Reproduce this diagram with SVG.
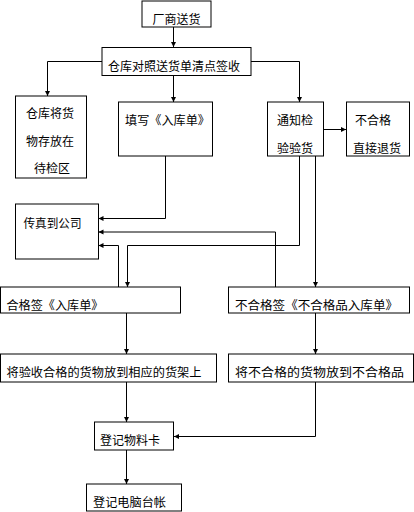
<svg xmlns="http://www.w3.org/2000/svg" width="414" height="512" viewBox="0 0 414 512">
<style>
rect.n{fill:#fff;stroke:#000;stroke-width:1}
text{font-family:"Noto Sans CJK SC","Liberation Sans",sans-serif;font-size:12px;fill:#000}
.c path{fill:none;stroke:#000;stroke-width:1;marker-end:url(#a)}
</style>
<defs>
<marker id="a" markerUnits="userSpaceOnUse" markerWidth="6" markerHeight="6" refX="5" refY="2.5" orient="auto">
<path d="M0,0 L5,2.5 L0,5 z" fill="#000"/>
</marker>
</defs>
<rect width="414" height="512" fill="#fff"/>
<g class="c">
<path d="M173.5,27 V47"/>
<path d="M102,61.5 H47.5 V96"/>
<path d="M173.5,75 V102"/>
<path d="M251,61.5 H299.5 V102"/>
<path d="M323,129.5 H346"/>
<path d="M165.5,156 V218.5 H98.5"/>
<path d="M299.5,156 V245.5 H127.5 V287"/>
<path d="M315.5,156 V287"/>
<path d="M275.5,287 V232 H98.5"/>
<path d="M118.5,287 V245.5 H98.5"/>
<path d="M126.5,313 V354"/>
<path d="M315.5,313 V354"/>
<path d="M126.5,382 V422"/>
<path d="M315.5,382 V436.5 H174"/>
<path d="M126.5,450 V484"/>
</g>
<g id="n1"><rect class="n" x="142" y="1" width="69" height="26"/><text x="176.5" y="23.5" text-anchor="middle">厂商送货</text></g>
<g id="n2"><rect class="n" x="102" y="47.5" width="149" height="28"/><text x="108" y="70.5" textLength="132" lengthAdjust="spacingAndGlyphs">仓库对照送货单清点签收</text></g>
<g id="n3"><rect class="n" x="15.5" y="96" width="71" height="82"/><text x="50" y="118" text-anchor="middle">仓库将货</text><text x="50" y="146" text-anchor="middle">物存放在</text><text x="52" y="173" text-anchor="middle">待检区</text></g>
<g id="n4"><rect class="n" x="118.5" y="102" width="94" height="54"/><text x="125" y="124.5" textLength="85" lengthAdjust="spacingAndGlyphs">填写《入库单》</text></g>
<g id="n5"><rect class="n" x="267.5" y="102" width="56" height="54"/><text x="295" y="125" text-anchor="middle">通知检</text><text x="295" y="153" text-anchor="middle">验验货</text></g>
<g id="n6"><rect class="n" x="346.5" y="102" width="63" height="54"/><text x="373" y="125" text-anchor="middle">不合格</text><text x="377" y="152.5" text-anchor="middle">直接退货</text></g>
<g id="n7"><rect class="n" x="15.5" y="204" width="83" height="55"/><text x="23.5" y="228" textLength="58" lengthAdjust="spacingAndGlyphs">传真到公司</text></g>
<g id="n8"><rect class="n" x="0.5" y="287" width="180" height="26"/><text x="6.5" y="309.5" textLength="97" lengthAdjust="spacingAndGlyphs">合格签《入库单》</text></g>
<g id="n9"><rect class="n" x="228.5" y="287" width="181" height="26"/><text x="235" y="309.5" textLength="163" lengthAdjust="spacingAndGlyphs">不合格签《不合格品入库单》</text></g>
<g id="n10"><rect class="n" x="0.5" y="354" width="216" height="28"/><text x="6.5" y="376.5" textLength="195" lengthAdjust="spacingAndGlyphs">将验收合格的货物放到相应的货架上</text></g>
<g id="n11"><rect class="n" x="228.5" y="354" width="185" height="28"/><text x="235" y="376.5" textLength="169" lengthAdjust="spacingAndGlyphs">将不合格的货物放到不合格品</text></g>
<g id="n12"><rect class="n" x="94.5" y="422" width="79" height="28"/><text x="100" y="444.5" textLength="60" lengthAdjust="spacingAndGlyphs">登记物料卡</text></g>
<g id="n13"><rect class="n" x="86.5" y="484" width="95" height="27"/><text x="93" y="506.5" textLength="73" lengthAdjust="spacingAndGlyphs">登记电脑台帐</text></g>
</svg>
